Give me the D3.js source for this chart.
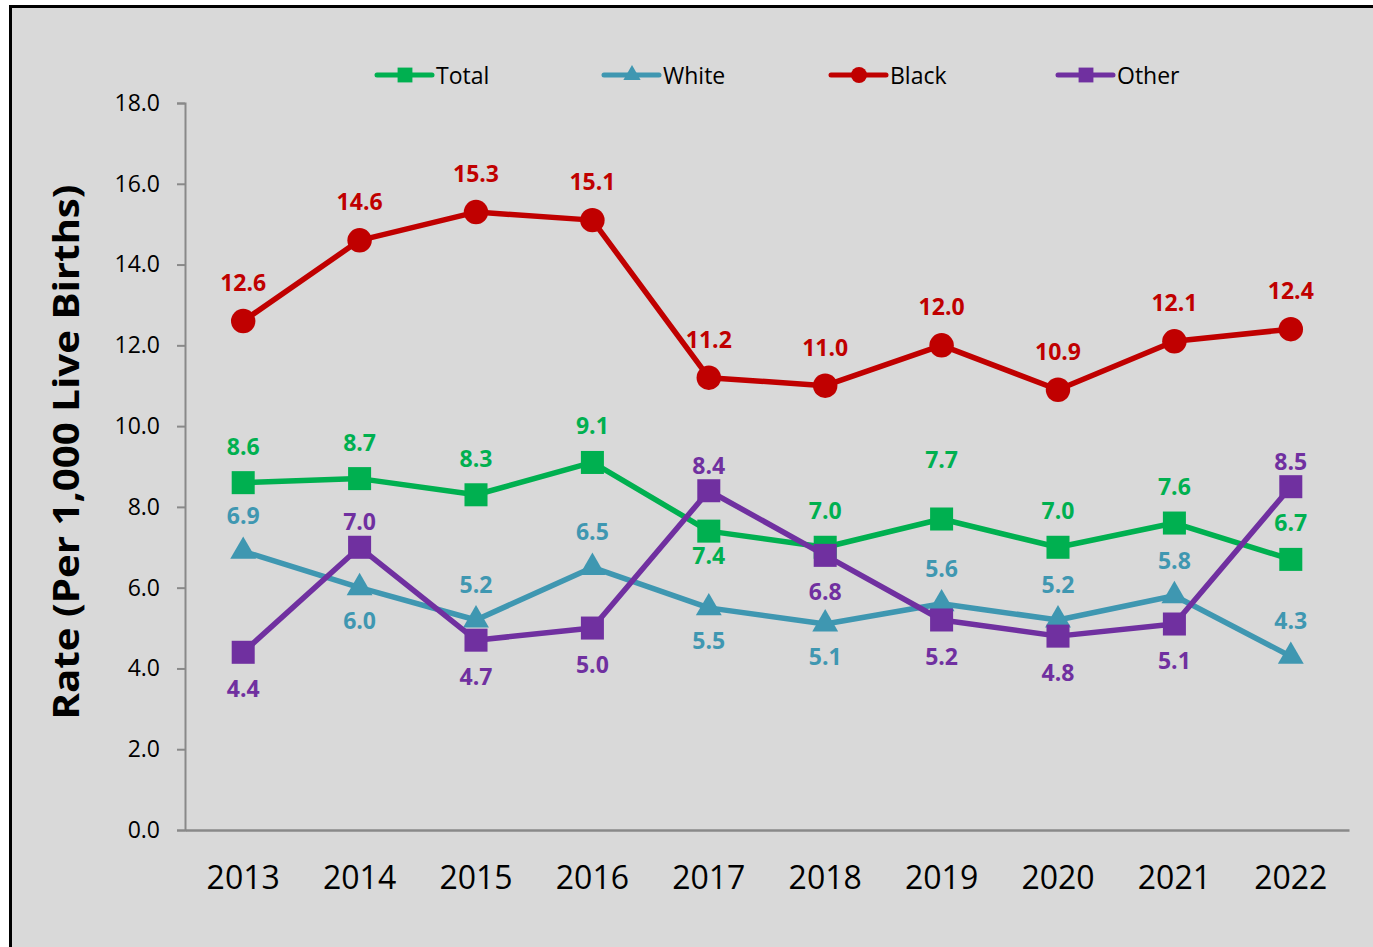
<!DOCTYPE html>
<html>
<head>
<meta charset="utf-8">
<script src="https://cdn.jsdelivr.net/npm/d3@7"></script>
<style>
  body { margin: 0; background: #fff; }
  svg { display: block; }
</style>
</head>
<body>
<script>
// data
const years = ['2013', '2014', '2015', '2016', '2017', '2018', '2019', '2020', '2021', '2022']
const totalRates = [8.6, 8.7, 8.3, 9.1, 7.4, 7.0, 7.7, 7.0, 7.6, 6.7]
const whiteRates = [6.9, 6.0, 5.2, 6.5, 5.5, 5.1, 5.6, 5.2, 5.8, 4.3]
const blackRates = [12.6, 14.6, 15.3, 15.1, 11.2, 11.0, 12.0, 10.9, 12.1, 12.4]
const otherRates = [4.4, 7.0, 4.7, 5.0, 8.4, 6.8, 5.2, 4.8, 5.1, 8.5]
const yTicks = [0, 2, 4, 6, 8, 10, 12, 14, 16, 18]

// where each data label sits: a = above, b = below, h = high above
const totalSide = ['a', 'a', 'a', 'a', 'b', 'a', 'h', 'a', 'a', 'a']
const whiteSide = ['a', 'b', 'a', 'a', 'b', 'b', 'a', 'a', 'a', 'a']
const blackSide = ['a', 'a', 'a', 'a', 'a', 'a', 'a', 'a', 'a', 'a']
const otherSide = ['b', 'a', 'b', 'b', 'a', 'b', 'b', 'b', 'b', 'a']

const series = [
  { name: 'Total', values: totalRates, side: totalSide, color: '#00b050', symbol: d3.symbolSquare, size: 530, legendSize: 220, offset: { a: -37, b: 24, h: -60 } },
  { name: 'White', values: whiteRates, side: whiteSide, color: '#3f97b1', symbol: d3.symbolTriangle, size: 290, legendSize: 130, offset: { a: -36, b: 32 } },
  { name: 'Black', values: blackRates, side: blackSide, color: '#c00000', symbol: d3.symbolCircle, size: 470, legendSize: 200, offset: { a: -39 } },
  { name: 'Other', values: otherRates, side: otherSide, color: '#7030a0', symbol: d3.symbolSquare, size: 530, legendSize: 220, offset: { a: -26, b: 36 } }
]

const W = 1373, H = 947
const plot = { left: 185, right: 1349, top: 103, bottom: 830 }
const font = '"Open Sans", "Noto Sans", sans-serif'
const axisGray = '#898989'

const svg = d3.select('body')
  .append('svg')
  .attr('width', W)
  .attr('height', H)

// chart area with the black frame
svg.append('rect')
  .attr('x', 10.5)
  .attr('y', 6.5)
  .attr('width', W + 20)
  .attr('height', H + 20)
  .attr('fill', '#d9d9d9')
  .attr('stroke', '#000')
  .attr('stroke-width', 3)

const x = d3.scaleBand()
  .domain(years)
  .range([plot.left, plot.right])

const y = d3.scaleLinear()
  .domain([0, 18])
  .range([plot.bottom, plot.top])

const cx = d => x(d) + x.bandwidth() / 2

// y axis
const yAxis = svg.append('g')
  .attr('transform', `translate(${plot.left}, 0)`)
  .call(d3.axisLeft(y).tickValues(yTicks).tickFormat(d3.format('.1f')).tickSize(8).tickPadding(17))
yAxis.select('.domain').attr('stroke', axisGray).attr('stroke-width', 2)
yAxis.selectAll('.tick line').attr('stroke', axisGray).attr('stroke-width', 2)
yAxis.selectAll('.tick text')
  .attr('fill', '#000')
  .style('font-family', font)
  .style('font-size', '23px')

// x axis
const xAxis = svg.append('g')
  .attr('transform', `translate(0, ${plot.bottom})`)
  .call(d3.axisBottom(x).tickSize(0).tickPadding(36).tickSizeOuter(0))
xAxis.select('.domain').attr('stroke', axisGray).attr('stroke-width', 2.5)
xAxis.selectAll('.tick text')
  .attr('fill', '#000')
  .style('font-family', font)
  .style('font-size', '32px')

// y axis title
svg.append('text')
  .attr('transform', 'translate(65, 452) rotate(-90)')
  .attr('text-anchor', 'middle')
  .attr('dominant-baseline', 'central')
  .attr('textLength', 535)
  .attr('lengthAdjust', 'spacingAndGlyphs')
  .style('font-family', font)
  .style('font-weight', 'bold')
  .style('font-size', '35px')
  .text('Rate (Per 1,000 Live Births)')

// lines and markers
const line = d3.line()
  .x((d, i) => cx(years[i]))
  .y(d => y(d))

series.forEach(s => {
  const g = svg.append('g')
  g.append('path')
    .datum(s.values)
    .attr('d', line)
    .attr('fill', 'none')
    .attr('stroke', s.color)
    .attr('stroke-width', 5.5)
    .attr('stroke-linejoin', 'round')

  g.selectAll('path.marker')
    .data(s.values)
    .enter()
    .append('path')
    .attr('class', 'marker')
    .attr('d', d3.symbol().type(s.symbol).size(s.size))
    .attr('transform', (d, i) => `translate(${cx(years[i])}, ${y(d)})`)
    .attr('fill', s.color)
})

// data labels on top
series.forEach(s => {
  svg.append('g')
    .selectAll('text')
    .data(s.values)
    .enter()
    .append('text')
    .attr('x', (d, i) => cx(years[i]))
    .attr('y', (d, i) => y(d) + s.offset[s.side[i]])
    .attr('text-anchor', 'middle')
    .attr('dominant-baseline', 'central')
    .attr('fill', s.color)
    .style('font-family', font)
    .style('font-weight', 'bold')
    .style('font-size', '23px')
    .text(d => d3.format('.1f')(d))
})

// legend
const legend = svg.append('g')
  .attr('transform', 'translate(377, 75)')

const item = legend.selectAll('g')
  .data(series)
  .enter()
  .append('g')
  .attr('transform', (d, i) => `translate(${i * 227}, 0)`)

item.append('line')
  .attr('x1', 0)
  .attr('x2', 55)
  .attr('stroke', d => d.color)
  .attr('stroke-width', 5)
  .attr('stroke-linecap', 'round')

item.append('path')
  .attr('d', d => d3.symbol().type(d.symbol).size(d.legendSize)())
  .attr('transform', 'translate(28, 0)')
  .attr('fill', d => d.color)

item.append('text')
  .attr('x', 59)
  .attr('dominant-baseline', 'central')
  .style('font-family', font)
  .style('font-size', '23px')
  .text(d => d.name)
</script>
</body>
</html>
